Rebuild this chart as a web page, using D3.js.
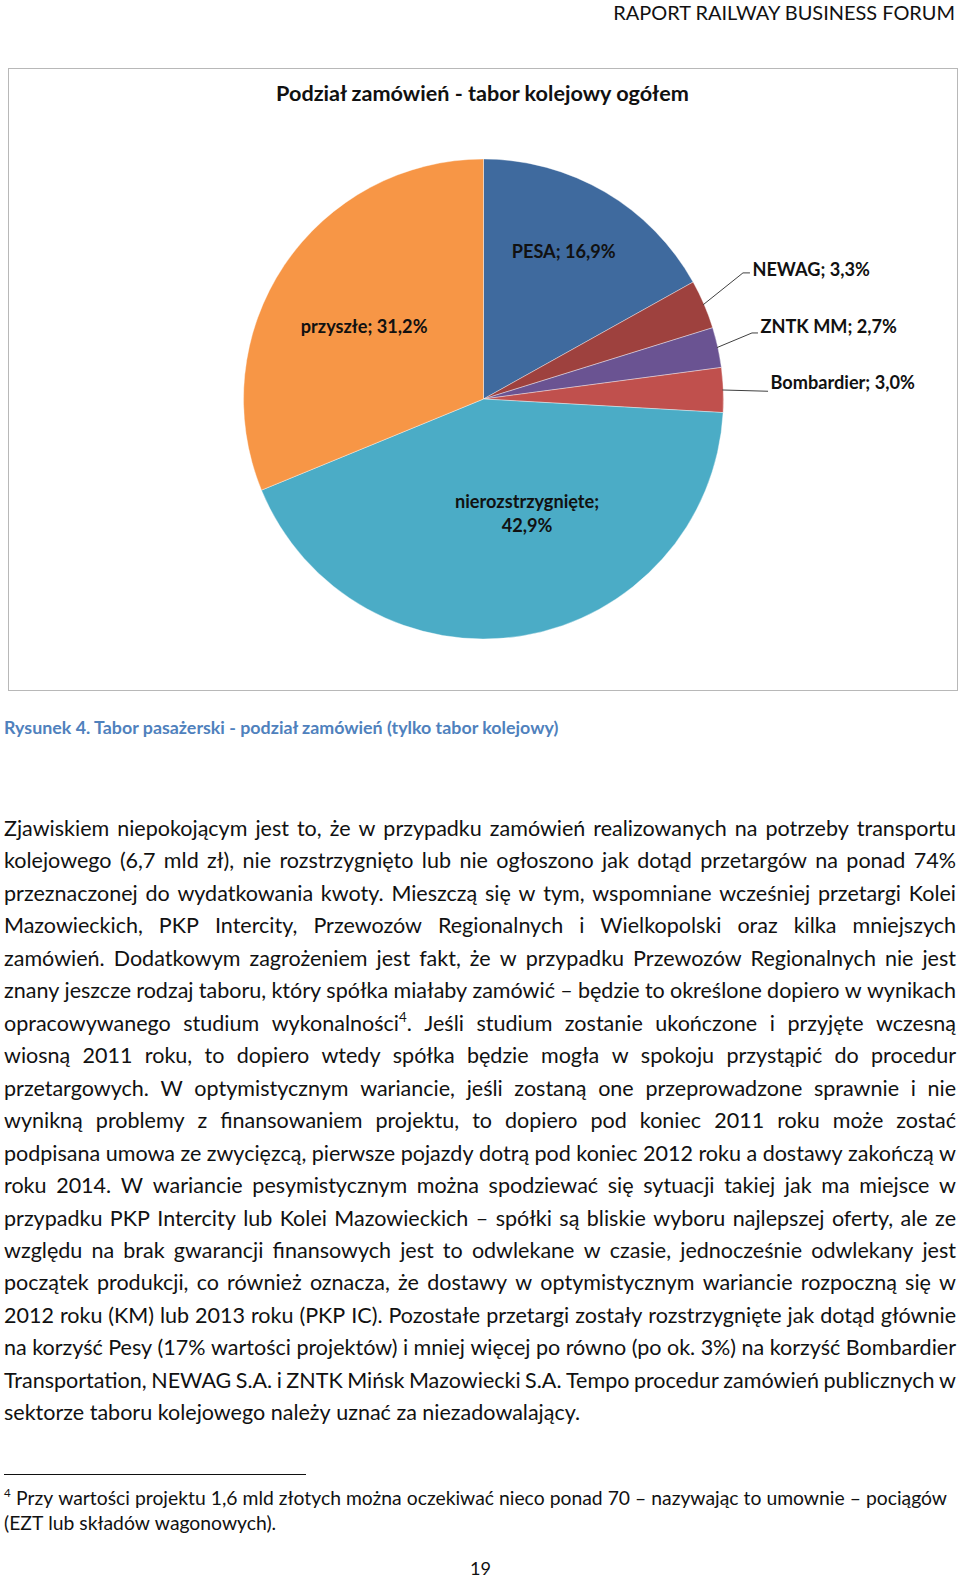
<!DOCTYPE html>
<html>
<head>
<meta charset="utf-8">
<script src="https://cdn.jsdelivr.net/npm/d3@7"></script>
<style>
  html,body{margin:0;padding:0;background:#fff;}
  text{font-family:Lato,"Open Sans","Noto Sans",sans-serif;}
</style>
</head>
<body>
<script>
// ---------- DATA ----------
const categories = ["PESA", "NEWAG", "ZNTK MM", "Bombardier", "nierozstrzygnięte", "przyszłe"];
const values = [16.9, 3.3, 2.7, 3.0, 42.9, 31.2];
const sliceColors = ["#3F6A9E", "#9E413E", "#6A5392", "#C0504D", "#4BACC6", "#F79646"];

const headerText = "RAPORT RAILWAY BUSINESS FORUM";
const chartTitle = "Podział zamówień - tabor kolejowy ogółem";
const captionText = "Rysunek 4. Tabor pasażerski - podział zamówień (tylko tabor kolejowy)";
const bodyLines = [
  "Zjawiskiem niepokojącym jest to, że w przypadku zamówień realizowanych na potrzeby transportu",
  "kolejowego (6,7 mld zł), nie rozstrzygnięto lub nie ogłoszono jak dotąd przetargów na ponad 74%",
  "przeznaczonej do wydatkowania kwoty. Mieszczą się w tym, wspomniane wcześniej przetargi Kolei",
  "Mazowieckich, PKP Intercity, Przewozów Regionalnych i Wielkopolski oraz kilka mniejszych",
  "zamówień. Dodatkowym zagrożeniem jest fakt, że w przypadku Przewozów Regionalnych nie jest",
  "znany jeszcze rodzaj taboru, który spółka miałaby zamówić – będzie to określone dopiero w wynikach",
  "opracowywanego studium wykonalności⁴. Jeśli studium zostanie ukończone i przyjęte wczesną",
  "wiosną 2011 roku, to dopiero wtedy spółka będzie mogła w spokoju przystąpić do procedur",
  "przetargowych. W optymistycznym wariancie, jeśli zostaną one przeprowadzone sprawnie i nie",
  "wynikną problemy z finansowaniem projektu, to dopiero pod koniec 2011 roku może zostać",
  "podpisana umowa ze zwycięzcą, pierwsze pojazdy dotrą pod koniec 2012 roku a dostawy zakończą w",
  "roku 2014. W wariancie pesymistycznym można spodziewać się sytuacji takiej jak ma miejsce w",
  "przypadku PKP Intercity lub Kolei Mazowieckich – spółki są bliskie wyboru najlepszej oferty, ale ze",
  "względu na brak gwarancji finansowych jest to odwlekane w czasie, jednocześnie odwlekany jest",
  "początek produkcji, co również oznacza, że dostawy w optymistycznym wariancie rozpoczną się w",
  "2012 roku (KM) lub 2013 roku (PKP IC). Pozostałe przetargi zostały rozstrzygnięte jak dotąd głównie",
  "na korzyść Pesy (17% wartości projektów) i mniej więcej po równo (po ok. 3%) na korzyść Bombardier",
  "Transportation, NEWAG S.A. i ZNTK Mińsk Mazowiecki S.A. Tempo procedur zamówień publicznych w",
  "sektorze taboru kolejowego należy uznać za niezadowalający."
];
const footnoteMark = "4";
const footnoteLines = [
  "Przy wartości projektu 1,6 mld złotych można oczekiwać nieco ponad 70 – nazywając to umownie – pociągów",
  "(EZT lub składów wagonowych)."
];
const pageNumber = "19";

// ---------- LAYOUT (positions / styles) ----------
const cx = 483.5, cy = 399, R = 240;
const labelLayout = [
  {type: "in", r: 0.70, da: -1.9},
  {type: "out", r: 1.202, da: -2.7, tail: 7, dy: 3},
  {type: "out", r: 1.152, da: -1.4, tail: 6, dy: 0},
  {type: "out", r: 1.186, da: 0.6, tail: 0, dy: -2},
  {type: "in", r: 0.508, da: -11.4, wrap: true},
  {type: "in", r: 0.583, da: -2.4}
];

const svg = d3.select("body").append("svg")
  .attr("width", 960).attr("height", 1580)
  .style("display", "block");
svg.append("rect").attr("width", 960).attr("height", 1580).attr("fill", "#fff");

function fit(sel, target) {
  const w = sel.node().getComputedTextLength();
  const fs = parseFloat(sel.attr("font-size"));
  const nfs = fs * target / w;
  sel.attr("font-size", nfs);
  return nfs;
}
const fmt = v => d3.format(".1f")(v).replace(".", ",") + "%";

// header
const hdr = svg.append("text").attr("x", 955).attr("y", 19.5).attr("text-anchor", "end")
  .attr("font-size", 20).attr("fill", "#111").text(headerText);
fit(hdr, 342);

// chart frame
svg.append("rect").attr("x", 8.5).attr("y", 68.5).attr("width", 949).attr("height", 622)
  .attr("fill", "#fff").attr("stroke", "#B8B8B8").attr("stroke-width", 1);

const title = svg.append("text").attr("x", 482.5).attr("y", 101).attr("text-anchor", "middle")
  .attr("font-size", 20).attr("font-weight", "bold").attr("fill", "#111").text(chartTitle);
fit(title, 413);

// pie
const pie = d3.pie().sort(null).value(d => d)(values);
const arc = d3.arc().innerRadius(0).outerRadius(R);
const gPie = svg.append("g").attr("transform", `translate(${cx},${cy})`);
gPie.selectAll("path").data(pie).join("path")
  .attr("d", arc)
  .attr("fill", (d, i) => sliceColors[i])
  .attr("stroke", "rgba(255,255,255,0.55)")
  .attr("stroke-width", 0.7);

// labels
const rad = deg => deg * Math.PI / 180;
const polar = (r, a) => [r * Math.sin(a), -r * Math.cos(a)];
const gLab = svg.append("g").attr("transform", `translate(${cx},${cy})`);

const probe = gLab.append("text").attr("font-size", 20).attr("font-weight", "bold")
  .text(categories[0] + "; " + fmt(values[0]));
const labFs = fit(probe, 104);
probe.remove();

pie.forEach((d, i) => {
  const L = labelLayout[i];
  const mid = (d.startAngle + d.endAngle) / 2;
  const a = mid + rad(L.da);
  const txt = categories[i] + "; " + fmt(values[i]);
  if (L.type === "in") {
    const [x, y] = polar(R * L.r, a);
    const t = gLab.append("text").attr("text-anchor", "middle")
      .attr("font-size", labFs).attr("font-weight", "bold").attr("fill", "#111");
    if (L.wrap) {
      t.append("tspan").attr("x", x).attr("y", y - labFs * 0.25).text(categories[i] + ";");
      t.append("tspan").attr("x", x).attr("y", y - labFs * 0.25 + labFs * 1.28).text(fmt(values[i]));
    } else {
      t.attr("x", x).attr("y", y + labFs * 0.38).text(txt);
    }
  } else {
    const p0 = polar(R - 1, mid);
    const p1 = polar(R * L.r, a);
    const p2 = [p1[0] + L.tail, p1[1]];
    gLab.append("polyline")
      .attr("points", [p0, p1, p2].map(p => p.join(",")).join(" "))
      .attr("fill", "none").attr("stroke", "#404040").attr("stroke-width", 1);
    gLab.append("text").attr("x", p2[0] + 2.5).attr("y", p2[1] + L.dy)
      .attr("font-size", labFs).attr("font-weight", "bold").attr("fill", "#111").text(txt);
  }
});

// caption
const cap = svg.append("text").attr("x", 4).attr("y", 734)
  .attr("font-size", 16).attr("font-weight", "bold").attr("fill", "#4F81BD").text(captionText);
fit(cap, 555);

// rich text helper (handles superscript ⁴)
function addRich(g, str, x, y, fs) {
  const t = g.append("text").attr("x", x).attr("y", y).attr("font-size", fs).attr("fill", "#111");
  const parts = str.split(/(⁴)/);
  let sup = false;
  parts.forEach(p => {
    if (!p) return;
    if (p === "⁴") {
      t.append("tspan").attr("font-size", fs * 0.62).attr("dy", -fs * 0.42).text("4");
      sup = true;
    } else {
      const ts = t.append("tspan").text(p);
      if (sup) { ts.attr("dy", fs * 0.42); sup = false; }
    }
  });
  return t;
}
function spaceWidth(g, fs) {
  const a = g.append("text").attr("font-size", fs).attr("xml:space", "preserve").text("x x");
  const b = g.append("text").attr("font-size", fs).text("xx");
  const w = a.node().getComputedTextLength() - b.node().getComputedTextLength();
  a.remove(); b.remove();
  return w;
}
function setLine(g, str, x0, x1, y, fs, justify) {
  const words = str.split(" ");
  const nodes = words.map(w => addRich(g, w, 0, y, fs));
  const widths = nodes.map(n => n.node().getComputedTextLength());
  const sum = d3.sum(widths);
  const sw = spaceWidth(g, fs);
  let gap = (justify && words.length > 1) ? (x1 - x0 - sum) / (words.length - 1) : sw;
  let x = x0;
  nodes.forEach((n, i) => { n.attr("x", x); x += widths[i] + gap; });
}

// body text
const gBody = svg.append("g");
const probeBody = gBody.append("text").attr("font-size", 20).text(bodyLines[bodyLines.length - 1]);
const bodyFs = fit(probeBody, 576);
probeBody.remove();
const y0 = 836, lh = 32.46;
bodyLines.forEach((ln, i) => {
  setLine(gBody, ln, 4, 956, y0 + i * lh, bodyFs, i < bodyLines.length - 1);
});

// footnote separator
svg.append("line").attr("x1", 4).attr("x2", 306).attr("y1", 1474.5).attr("y2", 1474.5)
  .attr("stroke", "#111").attr("stroke-width", 1);

const gFn = svg.append("g");
const probeFn = gFn.append("text").attr("font-size", 17).text(footnoteLines[1]);
const fnFs = fit(probeFn, 271);
probeFn.remove();
gFn.append("text").attr("x", 4).attr("y", 1505 - fnFs * 0.42).attr("font-size", fnFs * 0.6)
  .attr("fill", "#111").text(footnoteMark);
setLine(gFn, footnoteLines[0], 16, 947, 1505, fnFs, true);
setLine(gFn, footnoteLines[1], 4, 947, 1530, fnFs, false);

// page number
const pn = svg.append("text").attr("x", 480.5).attr("y", 1575).attr("text-anchor", "middle")
  .attr("font-size", 20).attr("fill", "#111").text(pageNumber);
fit(pn, 21);
</script>
</body>
</html>
